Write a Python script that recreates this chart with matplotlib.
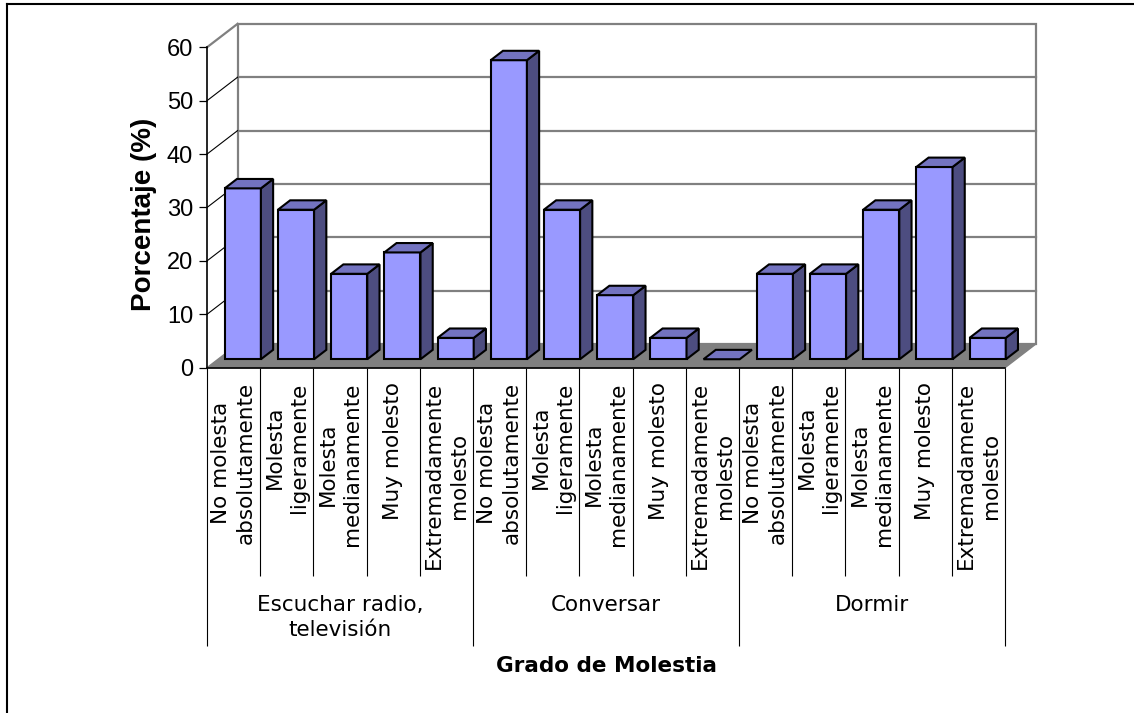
import matplotlib
matplotlib.use("Agg")
import matplotlib.pyplot as plt
from matplotlib.patches import Polygon
from matplotlib.lines import Line2D

# data (percent of respondents)
groups = ["Escuchar radio,\ntelevisión", "Conversar", "Dormir"]
levels = ["No molesta\nabsolutamente", "Molesta\nligeramente", "Molesta\nmedianamente",
          "Muy molesto", "Extremadamente\nmolesto"]
radio_tv = [32, 28, 16, 20, 4]
conversar = [56, 28, 12, 4, 0]
dormir = [16, 16, 28, 36, 4]
y_ticks = [0, 10, 20, 30, 40, 50, 60]

values = radio_tv + conversar + dormir
labels = levels * len(groups)
n = len(values)
y_max = y_ticks[-1]

# fake 3D (oblique) geometry, in category / value units
DX, DY = 0.575, 4.4          # floor depth
F0, F1 = 0.36, 0.76          # bar front / back as fraction of depth
BAR_X0, BAR_W = 0.126, 0.68

FRONT = "#9999FF"
TOP = "#7373C0"
SIDE = "#4D4D80"
WALL = "#808080"

fig = plt.figure(figsize=(11.34, 7.13), dpi=100, facecolor="white")
ax = fig.add_axes([0.18254, 0.48429, 0.7307, 0.48233])
ax.set_xlim(0, n + DX)
ax.set_ylim(0, y_max + DY)
ax.set_facecolor("none")

# back wall + gridlines
ax.add_patch(Polygon([(DX, DY), (n + DX, DY), (n + DX, y_max + DY), (DX, y_max + DY)],
                     closed=True, facecolor="white", edgecolor=WALL, lw=1.6,
                     clip_on=False, zorder=1))
for v in y_ticks[1:-1]:
    ax.add_line(Line2D([DX, n + DX], [v + DY, v + DY], color=WALL, lw=1.6,
                       clip_on=False, zorder=1))
# side wall lines
for v in y_ticks[1:]:
    ax.add_line(Line2D([0, DX], [v, v + DY], color="black" if v < y_max else WALL,
                       lw=0.8 if v < y_max else 1.6, clip_on=False, zorder=1))

# floor
ax.add_patch(Polygon([(0, 0), (n, 0), (n + DX, DY), (DX, DY)], closed=True,
                     facecolor=WALL, edgecolor=WALL, lw=1, clip_on=False, zorder=2))

# bars
ddx, ddy = (F1 - F0) * DX, (F1 - F0) * DY
for i, v in enumerate(values):
    x0 = i + BAR_X0 + F0 * DX
    y0 = F0 * DY
    x1 = x0 + BAR_W
    kw = dict(closed=True, edgecolor="black", lw=1.5, joinstyle="miter",
              clip_on=False, zorder=3)
    if v > 0:
        ax.add_patch(Polygon([(x0, y0), (x1, y0), (x1, y0 + v), (x0, y0 + v)],
                             facecolor=FRONT, **kw))
        ax.add_patch(Polygon([(x1, y0), (x1 + ddx, y0 + ddy), (x1 + ddx, y0 + v + ddy),
                              (x1, y0 + v)], facecolor=SIDE, **kw))
    ax.add_patch(Polygon([(x0, y0 + v), (x1, y0 + v), (x1 + ddx, y0 + v + ddy),
                          (x0 + ddx, y0 + v + ddy)], facecolor=TOP, **kw))

# axes
for s in ["top", "right"]:
    ax.spines[s].set_visible(False)
ax.spines["left"].set_bounds(0, y_max)
ax.spines["bottom"].set_bounds(0, n)
for s in ["left", "bottom"]:
    ax.spines[s].set_linewidth(1.2)
    ax.spines[s].set_zorder(4)

ax.set_yticks(y_ticks)
ax.set_yticklabels([str(t) for t in y_ticks], fontsize=17, family="Liberation Sans")
ax.tick_params(axis="y", direction="out", length=6, width=0.9, pad=4)

ax.set_xticks(range(0, n + 1, len(levels)))
ax.set_xticks([i for i in range(n + 1) if i % len(levels)], minor=True)
ax.tick_params(axis="x", which="major", direction="out", length=200, width=0.8,
               labelbottom=False)
ax.tick_params(axis="x", which="minor", direction="out", length=150, width=0.8,
               labelbottom=False)

for i, lab in enumerate(labels):
    ax.annotate(lab, xy=(i + 0.5, 0), xytext=(0, -10.5), textcoords="offset points",
                rotation=90, ha="center", va="top", multialignment="center",
                fontsize=15.5, linespacing=1.28, family="DejaVu Sans")
for g, name in enumerate(groups):
    ax.annotate(name, xy=(g * len(levels) + len(levels) / 2, 0), xytext=(0, -164),
                textcoords="offset points", ha="center", va="top",
                fontsize=15.5, linespacing=1.28, family="DejaVu Sans")

ax.annotate("Grado de Molestia", xy=(n / 2, 0), xytext=(0, -215), textcoords="offset points",
            ha="center", va="center", fontsize=15.5, fontweight="bold", family="DejaVu Sans")
ax.set_ylabel("Porcentaje (%)", fontsize=20, fontweight="bold", family="Liberation Sans")
ax.yaxis.set_label_coords(-0.06, 0.445)

# outer chart border (cut off at right/bottom like the source)
fig.add_artist(Line2D([6.5 / 1134, 1], [1 - 4 / 713, 1 - 4 / 713], color="black", lw=1.5))
fig.add_artist(Line2D([6.5 / 1134, 6.5 / 1134], [0, 1 - 4 / 713], color="black", lw=1.5))

fig.savefig("out.png", dpi=100)
